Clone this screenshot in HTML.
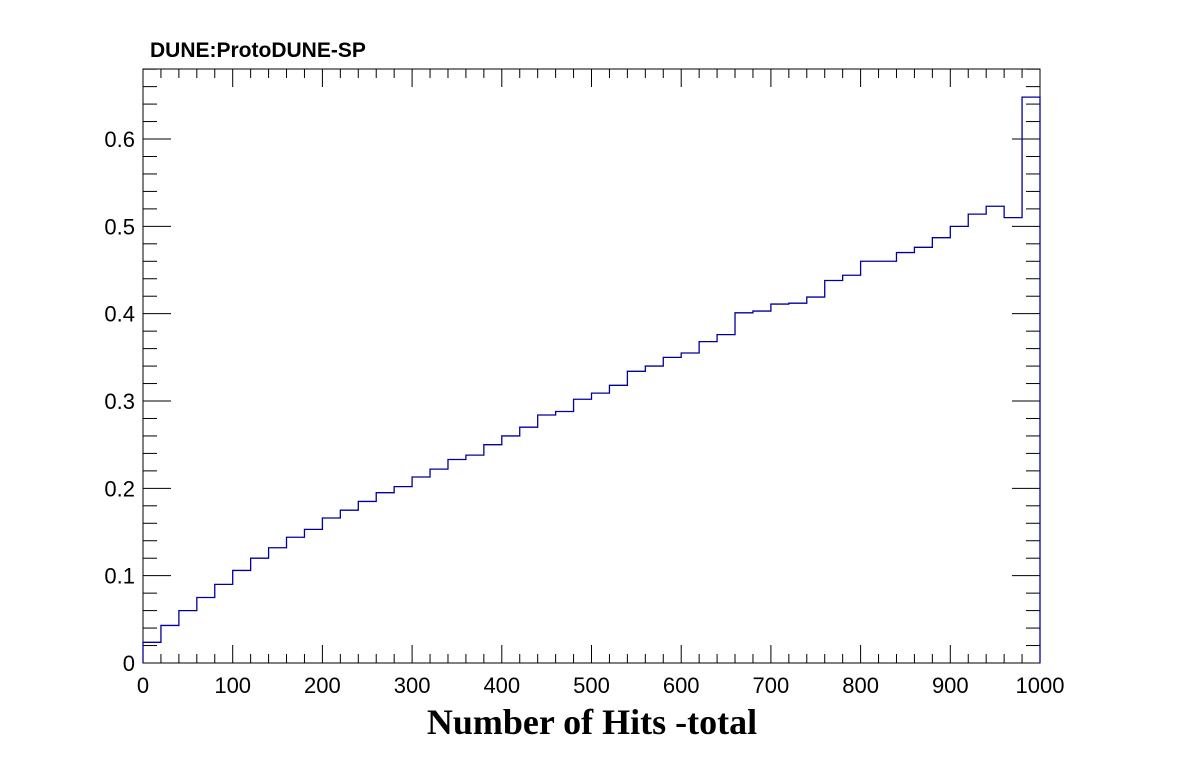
<!DOCTYPE html>
<html><head><meta charset="utf-8"><style>
body{margin:0;background:#fff}
svg{display:block}
text{font-family:"Liberation Sans",sans-serif}
</style></head><body>
<svg id="c" width="1196" height="772"></svg>
<script>
const binEdges0 = 0, binWidth = 20;
const values = [0.0237,0.043,0.060,0.075,0.090,0.106,0.120,0.132,0.144,0.153,
0.166,0.175,0.185,0.195,0.202,0.213,0.222,0.233,0.238,0.250,
0.260,0.270,0.284,0.288,0.302,0.309,0.318,0.334,0.340,0.350,
0.355,0.368,0.376,0.401,0.403,0.411,0.412,0.419,0.438,0.444,
0.460,0.460,0.470,0.476,0.487,0.500,0.514,0.523,0.510,0.648];
const xTicks = [0,100,200,300,400,500,600,700,800,900,1000];
const yTicks = [0,0.1,0.2,0.3,0.4,0.5,0.6];
const yTickLabels = ["0","0.1","0.2","0.3","0.4","0.5","0.6"];

const L=143,R=1040,B=663,T=69;
const X=v=>L+(v-0)/1000*(R-L);
const Y=v=>B-v*873.3;
const svg=document.getElementById('c');
const NS='http://www.w3.org/2000/svg';
function el(t,a,p){const e=document.createElementNS(NS,t);for(const k in a)e.setAttribute(k,a[k]);(p||svg).appendChild(e);return e;}

const frame=el('rect',{x:L,y:T,width:R-L,height:B-T,fill:'none',stroke:'#000','stroke-width':1});



const xg=el('g',{});


for(let v=0;v<=1000;v+=20){
  const maj=v%100===0, len=maj?18:9, x=X(v);
  el('line',{x1:x,x2:x,y1:B,y2:B-len,stroke:'#000'},xg);
  el('line',{x1:x,x2:x,y1:T,y2:T+len,stroke:'#000'},xg);
}
xTicks.forEach(v=>{
  const t=el('text',{x:X(v),y:B+30,'font-size':22,'text-anchor':'middle'},xg);
  t.textContent=v;
  
  
});
const yg=el('g',{});


for(let i=0;i<=34;i++){
  const v=i*0.02, maj=i%5===0, len=maj?28:14, y=Y(v);
  if(y<T) break;
  el('line',{x1:L,x2:L+len,y1:y,y2:y,stroke:'#000'},yg);
  el('line',{x1:R,x2:R-len,y1:y,y2:y,stroke:'#000'},yg);
}
yTicks.forEach((v,i)=>{
  const t=el('text',{x:L-8,y:Y(v)+8,'font-size':22,'text-anchor':'end'},yg);
  t.textContent=yTickLabels[i];
  
  
});
let d='M'+X(0)+','+B;
values.forEach((v,i)=>{
  const x0=X(binEdges0+i*binWidth), x1=X(binEdges0+(i+1)*binWidth);
  d+=' L'+x0+','+Y(v)+' L'+x1+','+Y(v);
});
d+=' L'+X(1000)+','+B;
const h=el('path',{d:d,fill:'none',stroke:'#0000a0','stroke-width':1.3});



const title=el('text',{x:150,y:57,'font-size':21,'font-weight':'bold'});
title.textContent='DUNE:ProtoDUNE-SP';


const xt=el('text',{x:592,y:734,'font-size':36,'font-weight':'bold','text-anchor':'middle',style:'font-family:"Liberation Serif",serif'});
xt.textContent='Number of Hits -total';


</script>
</body></html>
